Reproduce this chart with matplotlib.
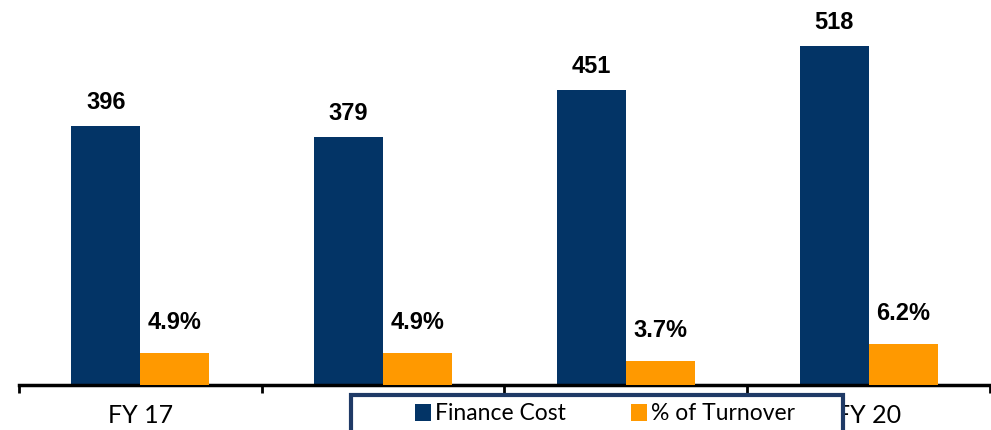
import matplotlib
matplotlib.use('Agg')
import matplotlib.pyplot as plt
import numpy as np
from matplotlib.patches import Rectangle

years = ['FY 17', 'FY 18', 'FY 19', 'FY 20']
finance_cost = [396, 379, 451, 518]
pct_turnover = [4.9, 4.9, 3.7, 6.2]

C_NAVY, C_ORANGE = '#033466', '#FF9900'
LABEL_FONT = ['Lato', 'DejaVu Sans']

fig = plt.figure(figsize=(9.91, 4.30), dpi=100)
ax = fig.add_axes([19 / 991, 45 / 430, 971 / 991, 385 / 430])
ax2 = ax.twinx()

x = np.arange(len(years))
w = 0.284
b1 = ax.bar(x - w / 2, finance_cost, w, color=C_NAVY, label='Finance Cost', zorder=2)
b2 = ax2.bar(x + w / 2, pct_turnover, w, color=C_ORANGE, label='% of Turnover', zorder=2)

ax.set_ylim(0, 588)
ax2.set_ylim(0, 58.3)
ax.set_xlim(-0.5, len(years) - 0.5)

for xi, v in zip(x, finance_cost):
    ax.annotate(f'{v}', xy=(xi - w / 2, v), xytext=(0, 16.5), textcoords='offset points',
                ha='center', va='center', fontsize=17, fontweight='bold',
                family='Liberation Sans')
for xi, v in zip(x, pct_turnover):
    ax2.annotate(f'{v:.1f}%', xy=(xi + w / 2, v), xytext=(0, 22), textcoords='offset points',
                 ha='center', va='center', fontsize=17, fontweight='bold',
                 family='Liberation Sans')

for a in (ax, ax2):
    for s in ('top', 'right', 'left'):
        a.spines[s].set_visible(False)
    a.set_yticks([])
ax2.spines['bottom'].set_visible(False)
ax.spines['bottom'].set_linewidth(2.5)
ax.spines['bottom'].set_zorder(3)

ax.set_xticks(x)
ax.set_xticklabels(years, fontsize=18, family=LABEL_FONT)
ax.set_xticks(np.arange(-0.5, len(years)), minor=True)
ax.tick_params(axis='x', which='major', length=0, pad=14)
ax.tick_params(axis='x', which='minor', length=6, width=2, direction='out')

# legend box sitting over the axis labels
fig.patches.append(Rectangle((351 / 991, -0.05), 492 / 991, 0.05 + 35 / 430,
                             transform=fig.transFigure, facecolor='white',
                             edgecolor='#1F3A66', linewidth=3, zorder=5))
leg = fig.legend([b1, b2], ['Finance Cost', '% of Turnover'], loc='center',
                 bbox_to_anchor=(605 / 991, 16 / 430), ncol=2, frameon=False,
                 prop={'family': LABEL_FONT, 'size': 16.5}, handlelength=0.7,
                 handleheight=0.7, handletextpad=0.2, columnspacing=2.8,
                 borderaxespad=0)
leg.set_zorder(6)

fig.savefig('out.png', dpi=100)
